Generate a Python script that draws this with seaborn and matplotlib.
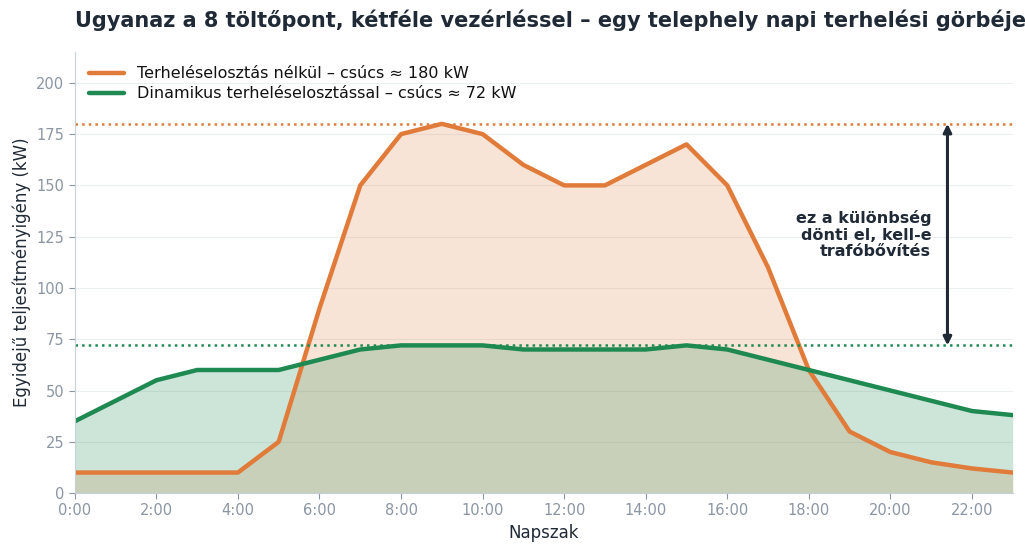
import numpy as np
import pandas as pd
import matplotlib
matplotlib.use("Agg")
import matplotlib.pyplot as plt
import seaborn as sns

hours = list(range(24))
no_balance = [10, 10, 10, 10, 10, 25, 90, 150, 175, 180, 175, 160,
              150, 150, 160, 170, 150, 110, 60, 30, 20, 15, 12, 10]
dynamic = [35, 45, 55, 60, 60, 60, 65, 70, 72, 72, 72, 70,
           70, 70, 70, 72, 70, 65, 60, 55, 50, 45, 40, 38]
label_no = "Terheléselosztás nélkül – csúcs ≈ 180 kW"
label_dyn = "Dinamikus terheléselosztással – csúcs ≈ 72 kW"
peak_no = 180
peak_dyn = 72
xtick_hours = list(range(0, 24, 2))
xtick_labels = [f"{h}:00" for h in xtick_hours]

orange = "#e07b39"
green = "#1e8a52"
dark = "#1f2a36"
grey = "#8a96a3"

sns.set_theme(style="white")
plt.rcParams['font.family'] = ['DejaVu Sans']

df = pd.DataFrame({"hour": hours, "no": no_balance, "dyn": dynamic})

fig, ax = plt.subplots(figsize=(10.25, 5.54), dpi=100)
fig.subplots_adjust(left=0.073, right=0.988, top=0.906, bottom=0.11)

ax.fill_between(df["hour"], df["no"], color=orange, alpha=0.2, lw=0)
ax.fill_between(df["hour"], df["dyn"], color=green, alpha=0.22, lw=0)
sns.lineplot(data=df, x="hour", y="no", color=orange, lw=3.2, ax=ax, label=label_no)
sns.lineplot(data=df, x="hour", y="dyn", color=green, lw=3.2, ax=ax, label=label_dyn)

# peak reference lines
ax.axhline(peak_no, color=orange, ls=":", lw=1.8)
ax.axhline(peak_dyn, color=green, ls=":", lw=1.8)

ax.annotate("", xy=(21.4, peak_dyn), xytext=(21.4, peak_no),
            arrowprops=dict(arrowstyle="<|-|>", color=dark, lw=2.2,
                            mutation_scale=12, shrinkA=0, shrinkB=0))
ax.text(21.0, 126, "ez a különbség\ndönti el, kell-e\ntrafóbővítés",
        ha="right", va="center", fontsize=11.5, fontweight="bold",
        color=dark, linespacing=1.1)

ax.set_xlim(0, 23)
ax.set_ylim(0, 215)
ax.set_xticks(xtick_hours)
ax.set_xticklabels(xtick_labels)
ax.set_yticks(range(0, 201, 25))
ax.grid(axis="y", color="#eceff2", lw=0.8)
ax.tick_params(axis="both", colors=grey, labelsize=10.5, length=4, width=0.8,
               left=True, bottom=True)
for s in ["top", "right"]:
    ax.spines[s].set_visible(False)
for s in ["left", "bottom"]:
    ax.spines[s].set_color("#c5d0d8")
    ax.spines[s].set_linewidth(0.8)

ax.set_xlabel("Napszak", fontsize=12, color=dark)
ax.set_ylabel("Egyidejű teljesítményigény (kW)", fontsize=12, color=dark)
ax.set_title("Ugyanaz a 8 töltőpont, kétféle vezérléssel – egy telephely napi terhelési görbéje",
             loc="left", fontsize=15, fontweight="bold", color=dark, pad=18)

leg = ax.legend(loc="upper left", frameon=False, fontsize=11.5,
                handlelength=2.2, borderaxespad=0.5, labelspacing=0.3)
for t in leg.get_texts():
    t.set_color("#111111")

fig.savefig("out.png", dpi=100)
